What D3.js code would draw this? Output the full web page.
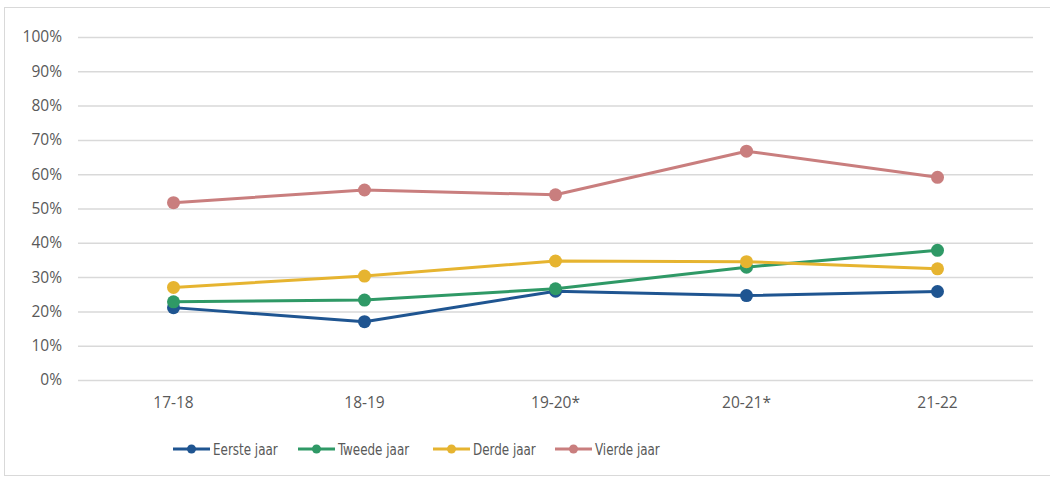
<!DOCTYPE html>
<html lang="nl">
<head>
    <meta charset="UTF-8">
    <title>Percentage per studiejaar</title>
    <script src="https://cdnjs.cloudflare.com/ajax/libs/d3/7.8.5/d3.min.js"></script>
    <style>
        body { margin: 0; background: #fff; }
        .tick text { font-family: "Open Sans", "Noto Sans", sans-serif; font-size: 15.5px; fill: #595959; }
        .legend-label { font-family: "DejaVu Sans Condensed", sans-serif; font-size: 16px; fill: #595959; }
    </style>
</head>
<body>
    <svg id="chart" width="1050" height="479"></svg>

    <script>
        const years = ["17-18", "18-19", "19-20*", "20-21*", "21-22"];
        const seriesNames = ["Eerste jaar", "Tweede jaar", "Derde jaar", "Vierde jaar"];
        const eersteJaar = [21.1, 17.0, 25.9, 24.6, 25.8];
        const tweedeJaar = [22.8, 23.3, 26.6, 32.9, 37.8];
        const derdeJaar = [27.0, 30.3, 34.7, 34.5, 32.4];
        const vierdeJaar = [51.7, 55.4, 54.0, 66.7, 59.1];
        const yTicks = [0, 10, 20, 30, 40, 50, 60, 70, 80, 90, 100];

        const seriesValues = [eersteJaar, tweedeJaar, derdeJaar, vierdeJaar];
        const colors = ["#1f5591", "#2f9966", "#e6b430", "#c97e7e"];

        const svg = d3.select("#chart");
        const plotLeft = 78, plotRight = 1033, plotTop = 37, plotBottom = 380;

        // chart frame
        svg.append("rect")
            .attr("x", 4.5).attr("y", 7.5)
            .attr("width", 1060).attr("height", 468)
            .attr("fill", "none")
            .attr("stroke", "#d9d9d9")
            .attr("stroke-width", 1);

        const x = d3.scaleBand().domain(years).range([plotLeft, plotRight]);
        const y = d3.scaleLinear().domain([0, 100]).range([plotBottom, plotTop]);

        // y axis with gridlines
        const yAxis = svg.append("g")
            .attr("transform", `translate(${plotLeft},0)`)
            .call(d3.axisLeft(y).tickValues(yTicks).tickSize(-(plotRight - plotLeft)).tickPadding(16).tickFormat(d => d + "%"));
        yAxis.select(".domain").remove();
        yAxis.selectAll(".tick line").attr("stroke", "#d9d9d9").attr("stroke-width", 1.5);

        // x axis labels
        const xAxis = svg.append("g")
            .attr("transform", `translate(0,${plotBottom})`)
            .call(d3.axisBottom(x).tickSize(0).tickPadding(17));
        xAxis.select(".domain").remove();

        const line = d3.line()
            .x((d, i) => x(years[i]) + x.bandwidth() / 2)
            .y(d => y(d));

        seriesValues.forEach((vals, s) => {
            svg.append("path")
                .datum(vals)
                .attr("fill", "none")
                .attr("stroke", colors[s])
                .attr("stroke-width", 3)
                .attr("stroke-linejoin", "round")
                .attr("d", line);

            svg.append("g").selectAll("circle")
                .data(vals)
                .join("circle")
                .attr("cx", (d, i) => x(years[i]) + x.bandwidth() / 2)
                .attr("cy", d => y(d))
                .attr("r", 6.5)
                .attr("fill", colors[s]);
        });

        // legend (narrow font: squeeze the condensed face horizontally)
        const legendX = [173, 298, 433, 555];
        const legend = svg.append("g").attr("transform", "translate(0,449)");
        seriesNames.forEach((name, s) => {
            const g = legend.append("g").attr("transform", `translate(${legendX[s]},0)`);
            g.append("line")
                .attr("x1", 0).attr("x2", 37)
                .attr("stroke", colors[s])
                .attr("stroke-width", 3);
            g.append("circle")
                .attr("cx", 18.5).attr("r", 4.5)
                .attr("fill", colors[s]);
            g.append("text")
                .attr("class", "legend-label")
                .attr("transform", "translate(40,0) scale(0.83,1)")
                .attr("dy", "0.35em")
                .text(name);
        });
    </script>
</body>
</html>
